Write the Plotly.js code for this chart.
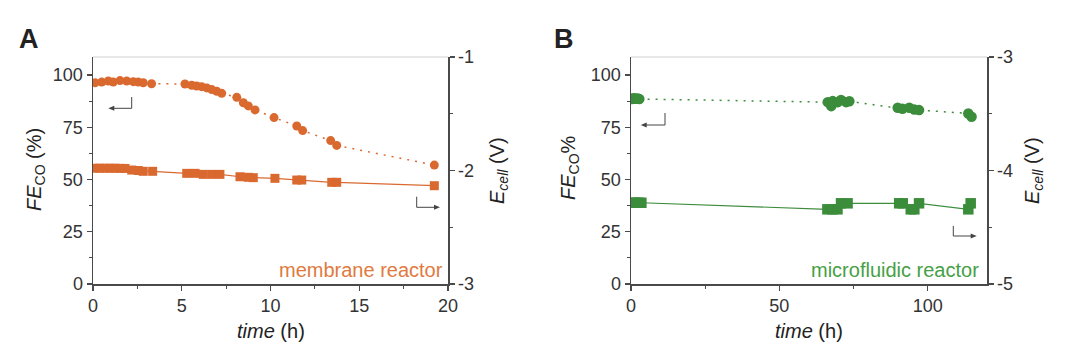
<!DOCTYPE html>
<html>
<head>
<meta charset="utf-8">
<script src="https://cdn.plot.ly/plotly-3.0.1.min.js"></script>
<style>html,body{margin:0;padding:0;background:#fff;}#chart{width:1080px;height:356px;}</style>
</head>
<body>
<div id="chart"></div>
<script>
// Panel A: membrane reactor
const timeA_FE = [0.11,0.49,0.86,1.14,1.52,1.9,2.27,2.55,2.83,3.3,5.18,5.56,5.84,6.12,6.41,6.69,6.97,7.25,8.1,8.47,8.75,9.13,10.2,11.48,11.81,13.39,13.73,19.23];
const feA = [96.3,96.6,97.1,96.6,97.3,97.1,96.8,96.6,96.3,95.8,95.7,95.1,94.7,94.4,93.8,93.0,92.2,91.2,89.3,86.7,85.2,83.3,79.6,75.6,73.4,68.6,66.3,56.9];
const timeA_E = [0.11,0.39,0.68,0.96,1.24,1.52,1.8,2.18,2.55,2.83,3.36,5.28,5.75,6.21,6.69,7.15,8.28,8.75,9.03,10.25,11.48,11.76,13.45,13.73,19.23];
const ecellA = [-1.98,-1.98,-1.98,-1.98,-1.98,-1.981,-1.982,-1.996,-2.0,-2.007,-2.007,-2.025,-2.025,-2.034,-2.034,-2.034,-2.055,-2.06,-2.063,-2.069,-2.084,-2.084,-2.104,-2.104,-2.134];
// Panel B: microfluidic reactor
const timeB_FE = [0.3,0.8,1.3,1.8,2.3,2.8,66.3,67.5,68,69.7,70.8,72.5,73.6,89.9,91.5,93.8,95.5,97.1,113.7,114.8];
const feB = [88.5,88.9,88.7,88.6,88.8,88.5,87.0,85.1,87.5,87.0,88.0,87.0,87.4,84.3,83.8,84.3,83.5,83.2,81.6,80.0];
const timeB_E = [0.5,1.5,2.5,3.5,66.2,67.9,69.6,70.8,73,90.4,91.6,94.3,95.5,97.1,113.7,114.5];
const ecellB = [-4.284,-4.284,-4.284,-4.284,-4.342,-4.342,-4.342,-4.289,-4.289,-4.289,-4.289,-4.342,-4.342,-4.289,-4.342,-4.289];
// Tick labels
const feTicks = [0, 25, 50, 75, 100];
const eTicksA = [-3, -2, -1];
const eTicksB = [-5, -4, -3];

const ORANGE = '#DA6930';
const GREEN = '#3B8C3B';
const AX = '#4a4a4a';
const FONT = 'Liberation Sans, Arial, sans-serif';

const traces = [
  {x: timeA_FE, y: feA, xaxis: 'x', yaxis: 'y', mode: 'lines+markers', type: 'scatter',
   line: {color: ORANGE, width: 1.5, dash: '2px,6px'}, marker: {symbol: 'circle', size: 9, color: ORANGE}},
  {x: timeA_E, y: ecellA, xaxis: 'x', yaxis: 'y2', mode: 'lines+markers', type: 'scatter',
   line: {color: ORANGE, width: 1.2}, marker: {symbol: 'square', size: 9, color: ORANGE}},
  {x: timeB_FE, y: feB, xaxis: 'x2', yaxis: 'y3', mode: 'lines+markers', type: 'scatter',
   line: {color: GREEN, width: 1.5, dash: '2px,6px'}, marker: {symbol: 'circle', size: 10.5, color: GREEN}},
  {x: timeB_E, y: ecellB, xaxis: 'x2', yaxis: 'y4', mode: 'lines+markers', type: 'scatter',
   line: {color: GREEN, width: 1.2}, marker: {symbol: 'square', size: 10.5, color: GREEN}}
];

const tickFont = {family: FONT, size: 18, color: '#333'};
function xax(domain, range, dtick, minor, yanchor) {
  return {domain: domain, range: range, dtick: dtick, tick0: 0, anchor: yanchor,
    showgrid: false, zeroline: false, showline: true, linecolor: AX, linewidth: 1.5,
    ticks: 'outside', ticklen: 5, tickcolor: AX, tickwidth: 1.2, tickfont: tickFont,
    minor: {dtick: minor, tick0: 0, ticks: 'outside', ticklen: 3, tickcolor: AX, showgrid: false},
    fixedrange: true};
}
function yax(range, vals, minor, xanchor, side, overlay) {
  const o = {domain: [0.2022, 0.8399], range: range, tickmode: 'array', tickvals: vals,
    ticktext: vals.map(v => String(v)), anchor: xanchor, side: side,
    showgrid: false, zeroline: false, showline: true, linecolor: AX, linewidth: 1.5,
    ticks: 'outside', ticklen: 5, tickcolor: AX, tickwidth: 1.2, tickfont: tickFont,
    minor: {dtick: minor, tick0: 0, ticks: 'outside', ticklen: 3, tickcolor: AX, showgrid: false},
    fixedrange: true};
  if (overlay) o.overlaying = overlay;
  return o;
}

function ann(text, x, y, opts) {
  return Object.assign({text: text, x: x, y: y, xref: 'paper', yref: 'paper', showarrow: false,
    font: {family: FONT, size: 20, color: '#222'}, xanchor: 'center', yanchor: 'middle'}, opts || {});
}

// L-shaped pointer arrows, positioned in pixels of the figure
const W = 1080, H = 356;
const px = v => v / W, py = v => 1 - v / H;
function lArrow(xv, yTop, yBot, xEnd) {
  const dir = xEnd < xv ? 1 : -1;
  const line = {color: '#444', width: 1};
  return [
    {type: 'line', xref: 'paper', yref: 'paper', x0: px(xv), x1: px(xv), y0: py(yTop), y1: py(yBot), line: line},
    {type: 'line', xref: 'paper', yref: 'paper', x0: px(xv), x1: px(xEnd + dir * 3), y0: py(yBot), y1: py(yBot), line: line},
    {type: 'path', xref: 'paper', yref: 'paper', line: {width: 0}, fillcolor: '#444',
     path: `M ${px(xEnd)} ${py(yBot)} L ${px(xEnd + dir * 6)} ${py(yBot - 2.5)} L ${px(xEnd + dir * 6)} ${py(yBot + 2.5)} Z`}
  ];
}

const annotations = [
  ann('<b>A</b>', 29/W, py(39), {font: {family: 'Liberation Sans Narrow, Arial Narrow, sans-serif', size: 27, color: '#222'}}),
  ann('<b>B</b>', 564/W, py(39), {font: {family: 'Liberation Sans Narrow, Arial Narrow, sans-serif', size: 27, color: '#222'}}),
  ann('<i>FE</i><sub>CO</sub> (%)', 36/W, py(170), {textangle: -90}),
  ann('<i>FE</i><sub>CO</sub>%', 569/W, py(168), {textangle: -90}),
  ann('<i>E<sub>cell</sub></i> (V)', 498/W, py(171), {textangle: -90}),
  ann('<i>E<sub>cell</sub></i> (V)', 1033/W, py(171), {textangle: -90}),
  ann('<i>time</i> (h)', 271/W, py(331)),
  ann('<i>time</i> (h)', 809/W, py(331)),
  ann('membrane reactor', 445/W, py(270), {xanchor: 'right', font: {family: FONT, size: 20, color: '#E07A40'}}),
  ann('microfluidic reactor', 981/W, py(270), {xanchor: 'right', font: {family: FONT, size: 20, color: '#46A046'}})
];

const shapes = [].concat(
  lArrow(131.7, 97, 108.3, 108.3),
  lArrow(416.7, 196.7, 207.3, 440),
  lArrow(665, 113, 125, 640.7),
  lArrow(953.3, 226, 236, 976.7),
  [
    {type: 'line', xref: 'paper', yref: 'paper', x0: 93/W, x1: 448/W, y0: 0.8399, y1: 0.8399, line: {color: '#cfcfcf', width: 1.2}},
    {type: 'line', xref: 'paper', yref: 'paper', x0: 631/W, x1: 987/W, y0: 0.8399, y1: 0.8399, line: {color: '#cfcfcf', width: 1.2}}
  ]
);

const layout = {
  width: W, height: H,
  margin: {l: 0, r: 0, t: 0, b: 0},
  paper_bgcolor: '#fff', plot_bgcolor: '#fff',
  showlegend: false,
  font: {family: FONT, color: '#333'},
  xaxis: xax([93/W, 448/W], [0, 20], 5, 2.5, 'y'),
  yaxis: yax([0, 108.6], feTicks, 12.5, 'x', 'left'),
  yaxis2: yax([-3, -1], eTicksA, 0.5, 'x', 'right', 'y'),
  xaxis2: xax([631/W, 987/W], [0, 120], 50, 25, 'y3'),
  yaxis3: yax([0, 108.6], feTicks, 12.5, 'x2', 'left'),
  yaxis4: yax([-5, -3], eTicksB, 0.5, 'x2', 'right', 'y3'),
  annotations: annotations,
  shapes: shapes
};

Plotly.newPlot('chart', traces, layout, {staticPlot: true, displayModeBar: false});
</script>
</body>
</html>
